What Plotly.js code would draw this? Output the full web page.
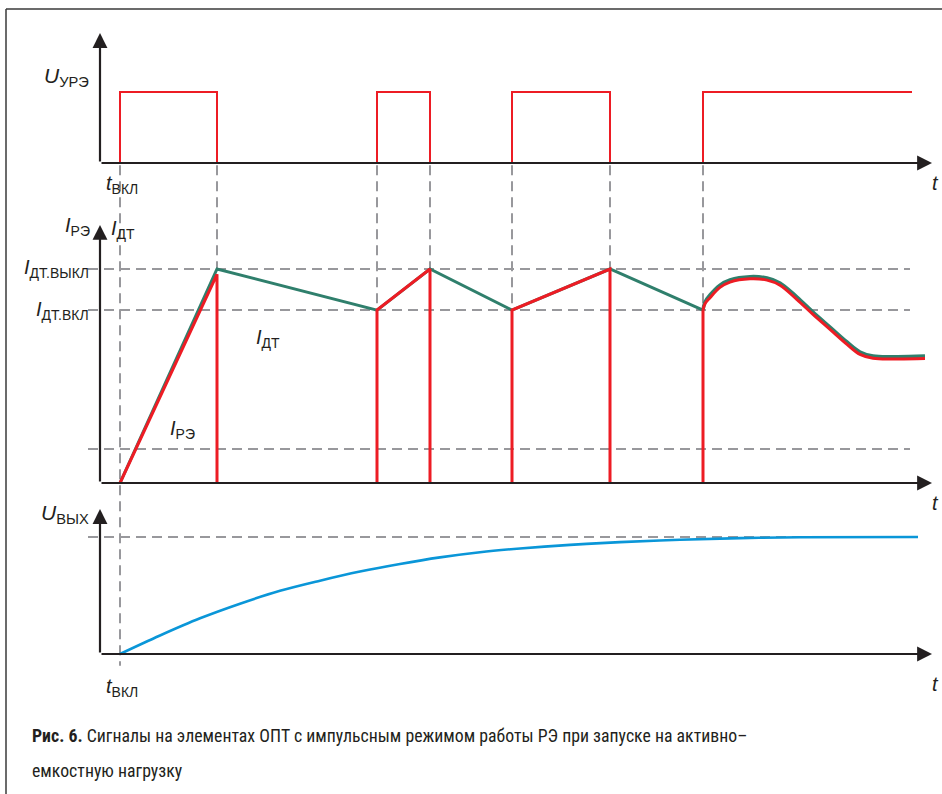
<!DOCTYPE html>
<html><head><meta charset="utf-8">
<script src="https://cdn.plot.ly/plotly-3.0.1.min.js"></script>
<style>html,body{margin:0;padding:0;background:#fff;} #chart{width:942px;height:794px;}</style>
</head><body><div id="chart"></div>
<script>
// ---- data (time in arbitrary units, t = 0 at t_вкл) ----
const pulseOn  = [0, 25.7, 39.2, 58.3];
const pulseOff = [9.7, 31.0, 49.0, 79.2];   // last pulse stays on to the end
// I_ДТ (units of I_ДТ.выкл)
const iDtT = [0, 9.7, 25.7, 31.0, 39.2, 49.0, 58.3];
const iDtV = [0, 1.0, 0.808, 1.0, 0.808, 1.0, 0.808];
const curveT   = [58.3, 58.5, 59.0, 60.0, 61.0, 63.0, 64.7, 66.0, 67.7, 69.3, 71.0, 72.7, 74.0, 75.3, 77.7, 80.5];
const iDtCurve = [0.808, 0.846, 0.879, 0.925, 0.949, 0.964, 0.958, 0.935, 0.869, 0.799, 0.729, 0.659, 0.612, 0.593, 0.590, 0.593];
const iReCurve = [0.808, 0.838, 0.866, 0.914, 0.939, 0.954, 0.948, 0.924, 0.857, 0.788, 0.718, 0.648, 0.601, 0.583, 0.580, 0.582];
// I_РЭ straight parts (null = pen up)
const iReT = [0, 9.7, 9.7, null, 25.7, 25.7, 31.0, 31.0, null, 39.2, 39.2, 49.0, 49.0, null, 58.3, 58.3];
const iReV = [0, 0.975, 0, null, 0, 0.808, 1.0, 0, null, 0, 0.808, 1.0, 0, null, 0, 0.808];
const levelOff = 1.0, levelOn = 0.808, levelLow = 0.159;
// U_вых (units of steady value)
const uOutT = [0, 4, 8, 12, 16, 20, 24, 28, 32, 36, 40, 45, 50, 56, 62, 68, 79.8];
const uOutV = [0, 0.158, 0.305, 0.43, 0.54, 0.627, 0.705, 0.77, 0.826, 0.87, 0.902, 0.933, 0.956, 0.976, 0.99, 0.998, 1.0];

// ---- layout helpers ----
const W = 942, H = 794;
const PX = x => x / W, PY = y => 1 - y / H;
function band(top, bottom, zeroPx, unitPx) {
  return {domain: [PY(bottom), PY(top)], range: [(zeroPx - bottom) / unitPx, (zeroPx - top) / unitPx], visible: false, fixedrange: true};
}
const ax1 = band(20, 176, 163, 71), ax2 = band(196, 496, 483, 214), ax3 = band(500, 700, 654, 117);
function toPaper(ax, v) { return ax.domain[0] + (v - ax.range[0]) / (ax.range[1] - ax.range[0]) * (ax.domain[1] - ax.domain[0]); }

const RED = '#ed1c24', GREEN = '#2f7f6c', BLUE = '#0a96d8', INK = '#231f20', GREY = '#98989c';

// pulse trace from edges
const uT = [], uV = [];
pulseOn.forEach((t0, i) => {
  const t1 = pulseOff[i];
  if (i < pulseOn.length - 1) { uT.push(t0, t0, t1, t1, null); uV.push(0, 1, 1, 0, null); }
  else { uT.push(t0, t0, t1); uV.push(0, 1, 1); }
});

const traces = [
  {x: uT, y: uV, xaxis: 'x', yaxis: 'y', mode: 'lines', line: {color: RED, width: 2}, connectgaps: false},
  {x: iDtT, y: iDtV, xaxis: 'x', yaxis: 'y2', mode: 'lines', line: {color: GREEN, width: 3}},
  {x: curveT, y: iDtCurve, xaxis: 'x', yaxis: 'y2', mode: 'lines', line: {color: GREEN, width: 3.5, shape: 'spline'}},
  {x: iReT, y: iReV, xaxis: 'x', yaxis: 'y2', mode: 'lines', line: {color: RED, width: 3}, connectgaps: false},
  {x: curveT, y: iReCurve, xaxis: 'x', yaxis: 'y2', mode: 'lines', line: {color: RED, width: 3, shape: 'spline'}},
  {x: uOutT, y: uOutV, xaxis: 'x', yaxis: 'y3', mode: 'lines', line: {color: BLUE, width: 2.6, shape: 'spline'}}
];

const tStart = -2, tEnd = 81.2, hLineStart = -3.2, hLineEnd = 79.0;
const dash = {color: GREY, width: 2, dash: '10px,6px'};
const shapes = [];
// frame (top and left edges)
shapes.push({type: 'line', xref: 'paper', yref: 'paper', x0: PX(6), x1: 1.01, y0: PY(9), y1: PY(9), line: {color: '#3a3a3a', width: 1.5}});
shapes.push({type: 'line', xref: 'paper', yref: 'paper', x0: PX(6), x1: PX(6), y0: PY(9), y1: -0.01, line: {color: '#3a3a3a', width: 1.5}});
// horizontal level lines
[levelOff, levelOn, levelLow].forEach(v => shapes.push({type: 'line', layer: 'below', xref: 'x', yref: 'y2', x0: hLineStart, x1: hLineEnd, y0: v, y1: v, line: dash}));
shapes.push({type: 'line', layer: 'below', xref: 'x', yref: 'y3', x0: hLineStart, x1: 79.8, y0: 1, y1: 1, line: dash});
// vertical switching lines
const vTop = toPaper(ax1, -0.03);
shapes.push({type: 'line', layer: 'below', xref: 'x', yref: 'paper', x0: 0, x1: 0, y0: vTop, y1: toPaper(ax3, -0.1), line: dash});
const vLines = [[9.7, levelOff], [25.7, 0], [31.0, levelOff], [39.2, levelOn], [49.0, levelOff], [58.3, levelOn]];
vLines.forEach(([t, v]) => shapes.push({type: 'line', layer: 'below', xref: 'x', yref: 'paper', x0: t, x1: t, y0: vTop, y1: toPaper(ax2, v), line: dash}));

// axes with arrows
const annotations = [];
function arrow(yref, x, y, axv, ayv) {
  annotations.push({xref: 'x', yref: yref, axref: 'x', ayref: yref, x: x, y: y, ax: axv, ay: ayv, text: '', showarrow: true,
    arrowhead: 2, arrowsize: 1.35, arrowwidth: 2.2, arrowcolor: INK, standoff: 0});
}
arrow('y', tEnd, 0, tStart, 0); arrow('y', tStart, 1.83, tStart, 0);
arrow('y2', tEnd, 0, tStart, 0); arrow('y2', tStart, 1.206, tStart, 0);
arrow('y3', tEnd, 0, tStart, 0); arrow('y3', tStart, 1.239, tStart, 0);

const LF = 'Liberation Sans, Arial, sans-serif';
function lab(text, x, y, xa, size) {
  annotations.push({xref: 'paper', yref: 'paper', x: PX(x), y: PY(y), xanchor: xa, yanchor: 'middle', text: text, showarrow: false,
    font: {family: LF, size: size || 20, color: INK}, borderpad: 0});
}
lab('<i>U</i><sub>УРЭ</sub>', 90, 77, 'right', 21);
lab('<i>t</i><sub>ВКЛ</sub>', 105, 184, 'left');
lab('<i>t</i>', 931, 183, 'left');
lab('<i>I</i><sub>РЭ</sub>', 91, 227, 'right');
lab('<i>I</i><sub>ДТ</sub>', 110, 229, 'left');
lab('<i>I</i><sub>ДТ.ВЫКЛ</sub>', 90, 268, 'right');
lab('<i>I</i><sub>ДТ.ВКЛ</sub>', 90, 310, 'right');
lab('<i>I</i><sub>ДТ</sub>', 255, 339, 'left');
lab('<i>I</i><sub>РЭ</sub>', 169, 429, 'left');
lab('<i>t</i>', 931, 503, 'left');
lab('<i>U</i><sub>ВЫХ</sub>', 90, 514, 'right', 21);
lab('<i>t</i><sub>ВКЛ</sub>', 105, 687, 'left');
lab('<i>t</i>', 931, 684, 'left');

const CF = 'Liberation Sans Narrow, Roboto Condensed, Arial Narrow, Roboto, sans-serif';
annotations.push({xref: 'paper', yref: 'paper', x: PX(31), y: PY(735), xanchor: 'left', yanchor: 'middle', showarrow: false,
  text: '<b>Рис. 6.</b> Сигналы на элементах ОПТ с импульсным режимом работы РЭ при запуске на активно–',
  font: {family: CF, size: 17.8, color: INK}, borderpad: 0});
annotations.push({xref: 'paper', yref: 'paper', x: PX(31), y: PY(770), xanchor: 'left', yanchor: 'middle', showarrow: false,
  text: 'емкостную нагрузку', font: {family: CF, size: 17.8, color: INK}, borderpad: 0});

const layout = {
  width: W, height: H, margin: {l: 0, r: 0, t: 0, b: 0}, showlegend: false,
  paper_bgcolor: '#fff', plot_bgcolor: 'rgba(0,0,0,0)',
  xaxis: {domain: [0, 1], range: [-12, 82.2], visible: false, fixedrange: true},
  yaxis: Object.assign({anchor: 'x'}, ax1),
  yaxis2: Object.assign({anchor: 'x'}, ax2),
  yaxis3: Object.assign({anchor: 'x'}, ax3),
  shapes: shapes, annotations: annotations
};
Plotly.newPlot('chart', traces, layout, {staticPlot: true, displayModeBar: false});
</script></body></html>
